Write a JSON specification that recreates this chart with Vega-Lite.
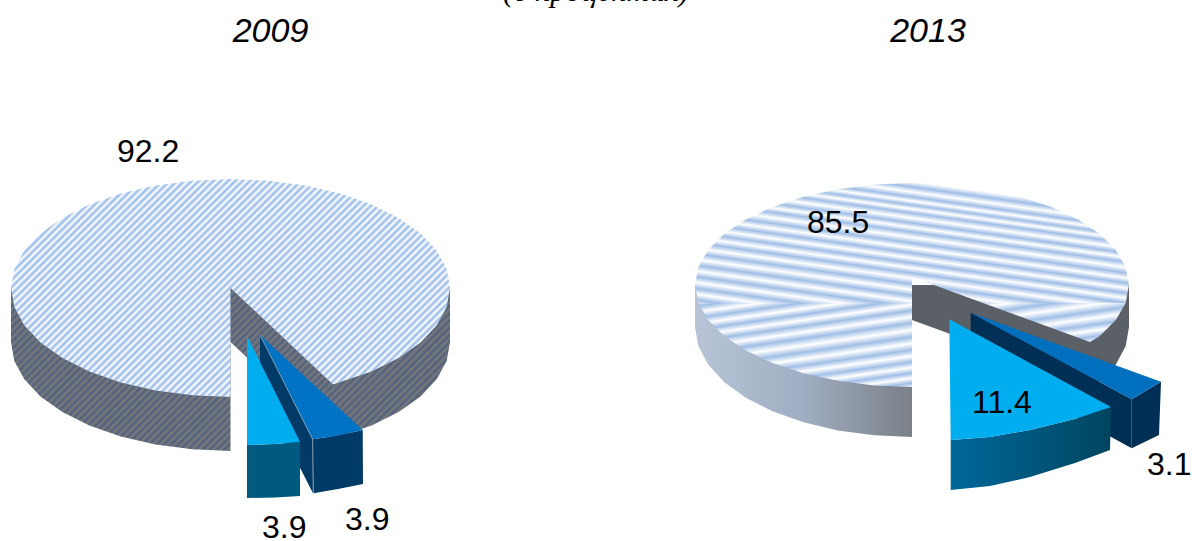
{"$schema":"https://vega.github.io/schema/vega-lite/v6.json","width":1192,"height":541,"padding":0,"autosize":{"type":"none"},"background":"#ffffff","config":{"view":{"stroke":null}},
"encoding":{"x":{"field":"x","type":"quantitative","axis":null,"scale":{"domain":[0,1192],"nice":false,"zero":false}},"y":{"field":"y","type":"quantitative","axis":null,"scale":{"domain":[0,541],"nice":false,"zero":false,"reverse":true}},"order":{"value":null}},
"layer":[
{"mark":{"type":"line","strokeWidth":0,"fill":{"gradient":"linear","x1":0,"y1":0,"x2":1.46,"y2":0.546,"stops":[{"offset":0,"color":"#7a7a7c"},{"offset":0.005,"color":"#4f5f7c"},{"offset":0.01,"color":"#7a7a7c"},{"offset":0.015,"color":"#4f5f7c"},{"offset":0.02,"color":"#7a7a7c"},{"offset":0.025,"color":"#4f5f7c"},{"offset":0.03,"color":"#7a7a7c"},{"offset":0.035,"color":"#4f5f7c"},{"offset":0.04,"color":"#7a7a7c"},{"offset":0.045,"color":"#4f5f7c"},{"offset":0.05,"color":"#7a7a7c"},{"offset":0.055,"color":"#4f5f7c"},{"offset":0.06,"color":"#7a7a7c"},{"offset":0.065,"color":"#4f5f7c"},{"offset":0.07,"color":"#7a7a7c"},{"offset":0.075,"color":"#4f5f7c"},{"offset":0.08,"color":"#7a7a7c"},{"offset":0.085,"color":"#4f5f7c"},{"offset":0.09,"color":"#7a7a7c"},{"offset":0.095,"color":"#4f5f7c"},{"offset":0.1,"color":"#7a7a7c"},{"offset":0.105,"color":"#4f5f7c"},{"offset":0.11,"color":"#7a7a7c"},{"offset":0.115,"color":"#4f5f7c"},{"offset":0.12,"color":"#7a7a7c"},{"offset":0.125,"color":"#4f5f7c"},{"offset":0.13,"color":"#7a7a7c"},{"offset":0.135,"color":"#4f5f7c"},{"offset":0.14,"color":"#7a7a7c"},{"offset":0.145,"color":"#4f5f7c"},{"offset":0.15,"color":"#7a7a7c"},{"offset":0.155,"color":"#4f5f7c"},{"offset":0.16,"color":"#7a7a7c"},{"offset":0.165,"color":"#4f5f7c"},{"offset":0.17,"color":"#7a7a7c"},{"offset":0.175,"color":"#4f5f7c"},{"offset":0.18,"color":"#7a7a7c"},{"offset":0.185,"color":"#4f5f7c"},{"offset":0.19,"color":"#7a7a7c"},{"offset":0.195,"color":"#4f5f7c"},{"offset":0.2,"color":"#7a7a7c"},{"offset":0.205,"color":"#4f5f7c"},{"offset":0.21,"color":"#7a7a7c"},{"offset":0.215,"color":"#4f5f7c"},{"offset":0.22,"color":"#7a7a7c"},{"offset":0.225,"color":"#4f5f7c"},{"offset":0.23,"color":"#7a7a7c"},{"offset":0.235,"color":"#4f5f7c"},{"offset":0.24,"color":"#7a7a7c"},{"offset":0.245,"color":"#4f5f7c"},{"offset":0.25,"color":"#7a7a7c"},{"offset":0.255,"color":"#4f5f7c"},{"offset":0.26,"color":"#7a7a7c"},{"offset":0.265,"color":"#4f5f7c"},{"offset":0.27,"color":"#7a7a7c"},{"offset":0.275,"color":"#4f5f7c"},{"offset":0.28,"color":"#7a7a7c"},{"offset":0.285,"color":"#4f5f7c"},{"offset":0.29,"color":"#7a7a7c"},{"offset":0.295,"color":"#4f5f7c"},{"offset":0.3,"color":"#7a7a7c"},{"offset":0.305,"color":"#4f5f7c"},{"offset":0.31,"color":"#7a7a7c"},{"offset":0.315,"color":"#4f5f7c"},{"offset":0.32,"color":"#7a7a7c"},{"offset":0.325,"color":"#4f5f7c"},{"offset":0.33,"color":"#7a7a7c"},{"offset":0.335,"color":"#4f5f7c"},{"offset":0.34,"color":"#7a7a7c"},{"offset":0.345,"color":"#4f5f7c"},{"offset":0.35,"color":"#7a7a7c"},{"offset":0.355,"color":"#4f5f7c"},{"offset":0.36,"color":"#7a7a7c"},{"offset":0.365,"color":"#4f5f7c"},{"offset":0.37,"color":"#7a7a7c"},{"offset":0.375,"color":"#4f5f7c"},{"offset":0.38,"color":"#7a7a7c"},{"offset":0.385,"color":"#4f5f7c"},{"offset":0.39,"color":"#7a7a7c"},{"offset":0.395,"color":"#4f5f7c"},{"offset":0.4,"color":"#7a7a7c"},{"offset":0.405,"color":"#4f5f7c"},{"offset":0.41,"color":"#7a7a7c"},{"offset":0.415,"color":"#4f5f7c"},{"offset":0.42,"color":"#7a7a7c"},{"offset":0.425,"color":"#4f5f7c"},{"offset":0.43,"color":"#7a7a7c"},{"offset":0.435,"color":"#4f5f7c"},{"offset":0.44,"color":"#7a7a7c"},{"offset":0.445,"color":"#4f5f7c"},{"offset":0.45,"color":"#7a7a7c"},{"offset":0.455,"color":"#4f5f7c"},{"offset":0.46,"color":"#7a7a7c"},{"offset":0.465,"color":"#4f5f7c"},{"offset":0.47,"color":"#7a7a7c"},{"offset":0.475,"color":"#4f5f7c"},{"offset":0.48,"color":"#7a7a7c"},{"offset":0.485,"color":"#4f5f7c"},{"offset":0.49,"color":"#7a7a7c"},{"offset":0.495,"color":"#4f5f7c"},{"offset":0.5,"color":"#7a7a7c"},{"offset":0.505,"color":"#4f5f7c"},{"offset":0.51,"color":"#7a7a7c"},{"offset":0.515,"color":"#4f5f7c"},{"offset":0.52,"color":"#7a7a7c"},{"offset":0.525,"color":"#4f5f7c"},{"offset":0.53,"color":"#7a7a7c"},{"offset":0.535,"color":"#4f5f7c"},{"offset":0.54,"color":"#7a7a7c"},{"offset":0.545,"color":"#4f5f7c"},{"offset":0.55,"color":"#7a7a7c"},{"offset":0.555,"color":"#4f5f7c"},{"offset":0.56,"color":"#7a7a7c"},{"offset":0.565,"color":"#4f5f7c"},{"offset":0.57,"color":"#7a7a7c"},{"offset":0.575,"color":"#4f5f7c"},{"offset":0.58,"color":"#7a7a7c"},{"offset":0.585,"color":"#4f5f7c"},{"offset":0.59,"color":"#7a7a7c"},{"offset":0.595,"color":"#4f5f7c"},{"offset":0.6,"color":"#7a7a7c"},{"offset":0.605,"color":"#4f5f7c"},{"offset":0.61,"color":"#7a7a7c"},{"offset":0.615,"color":"#4f5f7c"},{"offset":0.62,"color":"#7a7a7c"},{"offset":0.625,"color":"#4f5f7c"},{"offset":0.63,"color":"#7a7a7c"},{"offset":0.635,"color":"#4f5f7c"},{"offset":0.64,"color":"#7a7a7c"},{"offset":0.645,"color":"#4f5f7c"},{"offset":0.65,"color":"#7a7a7c"},{"offset":0.655,"color":"#4f5f7c"},{"offset":0.66,"color":"#7a7a7c"},{"offset":0.665,"color":"#4f5f7c"},{"offset":0.67,"color":"#7a7a7c"},{"offset":0.675,"color":"#4f5f7c"},{"offset":0.68,"color":"#7a7a7c"},{"offset":0.685,"color":"#4f5f7c"},{"offset":0.69,"color":"#7a7a7c"},{"offset":0.695,"color":"#4f5f7c"},{"offset":0.7,"color":"#7a7a7c"},{"offset":0.705,"color":"#4f5f7c"},{"offset":0.71,"color":"#7a7a7c"},{"offset":0.715,"color":"#4f5f7c"},{"offset":0.72,"color":"#7a7a7c"},{"offset":0.725,"color":"#4f5f7c"},{"offset":0.73,"color":"#7a7a7c"},{"offset":0.735,"color":"#4f5f7c"},{"offset":0.74,"color":"#7a7a7c"},{"offset":0.745,"color":"#4f5f7c"},{"offset":0.75,"color":"#7a7a7c"},{"offset":0.755,"color":"#4f5f7c"},{"offset":0.76,"color":"#7a7a7c"},{"offset":0.765,"color":"#4f5f7c"},{"offset":0.77,"color":"#7a7a7c"},{"offset":0.775,"color":"#4f5f7c"},{"offset":0.78,"color":"#7a7a7c"},{"offset":0.785,"color":"#4f5f7c"},{"offset":0.79,"color":"#7a7a7c"},{"offset":0.795,"color":"#4f5f7c"},{"offset":0.8,"color":"#7a7a7c"},{"offset":0.805,"color":"#4f5f7c"},{"offset":0.81,"color":"#7a7a7c"},{"offset":0.815,"color":"#4f5f7c"},{"offset":0.82,"color":"#7a7a7c"},{"offset":0.825,"color":"#4f5f7c"},{"offset":0.83,"color":"#7a7a7c"}]}},
"data":{"values":[{"x":11,"y":288},{"x":11,"y":342},{"x":14.3,"y":361},{"x":24.2,"y":379},{"x":40.4,"y":396.5},{"x":62.4,"y":412},{"x":89.4,"y":425.5},{"x":120.7,"y":436.4},{"x":155.4,"y":444.4},{"x":192.4,"y":449.3},{"x":230.5,"y":451},{"x":230.5,"y":342},{"x":333,"y":438.4},{"x":371.6,"y":425.5},{"x":398.6,"y":412},{"x":420.6,"y":396.5},{"x":436.8,"y":379},{"x":446.7,"y":361},{"x":450,"y":342},{"x":450,"y":288}]}},
{"mark":{"type":"line","strokeWidth":0,"fill":{"gradient":"linear","x1":0,"y1":0,"x2":1.33,"y2":0.665,"stops":[{"offset":0.11,"color":"#96b9e8"},{"offset":0.115,"color":"#fff"},{"offset":0.12,"color":"#96b9e8"},{"offset":0.125,"color":"#fff"},{"offset":0.13,"color":"#96b9e8"},{"offset":0.135,"color":"#fff"},{"offset":0.14,"color":"#96b9e8"},{"offset":0.145,"color":"#fff"},{"offset":0.15,"color":"#96b9e8"},{"offset":0.155,"color":"#fff"},{"offset":0.16,"color":"#96b9e8"},{"offset":0.165,"color":"#fff"},{"offset":0.17,"color":"#96b9e8"},{"offset":0.175,"color":"#fff"},{"offset":0.18,"color":"#96b9e8"},{"offset":0.185,"color":"#fff"},{"offset":0.19,"color":"#96b9e8"},{"offset":0.195,"color":"#fff"},{"offset":0.2,"color":"#96b9e8"},{"offset":0.205,"color":"#fff"},{"offset":0.21,"color":"#96b9e8"},{"offset":0.215,"color":"#fff"},{"offset":0.22,"color":"#96b9e8"},{"offset":0.225,"color":"#fff"},{"offset":0.23,"color":"#96b9e8"},{"offset":0.235,"color":"#fff"},{"offset":0.24,"color":"#96b9e8"},{"offset":0.245,"color":"#fff"},{"offset":0.25,"color":"#96b9e8"},{"offset":0.255,"color":"#fff"},{"offset":0.26,"color":"#96b9e8"},{"offset":0.265,"color":"#fff"},{"offset":0.27,"color":"#96b9e8"},{"offset":0.275,"color":"#fff"},{"offset":0.28,"color":"#96b9e8"},{"offset":0.285,"color":"#fff"},{"offset":0.29,"color":"#96b9e8"},{"offset":0.295,"color":"#fff"},{"offset":0.3,"color":"#96b9e8"},{"offset":0.305,"color":"#fff"},{"offset":0.31,"color":"#96b9e8"},{"offset":0.315,"color":"#fff"},{"offset":0.32,"color":"#96b9e8"},{"offset":0.325,"color":"#fff"},{"offset":0.33,"color":"#96b9e8"},{"offset":0.335,"color":"#fff"},{"offset":0.34,"color":"#96b9e8"},{"offset":0.345,"color":"#fff"},{"offset":0.35,"color":"#96b9e8"},{"offset":0.355,"color":"#fff"},{"offset":0.36,"color":"#96b9e8"},{"offset":0.365,"color":"#fff"},{"offset":0.37,"color":"#96b9e8"},{"offset":0.375,"color":"#fff"},{"offset":0.38,"color":"#96b9e8"},{"offset":0.385,"color":"#fff"},{"offset":0.39,"color":"#96b9e8"},{"offset":0.395,"color":"#fff"},{"offset":0.4,"color":"#96b9e8"},{"offset":0.405,"color":"#fff"},{"offset":0.41,"color":"#96b9e8"},{"offset":0.415,"color":"#fff"},{"offset":0.42,"color":"#96b9e8"},{"offset":0.425,"color":"#fff"},{"offset":0.43,"color":"#96b9e8"},{"offset":0.435,"color":"#fff"},{"offset":0.44,"color":"#96b9e8"},{"offset":0.445,"color":"#fff"},{"offset":0.45,"color":"#96b9e8"},{"offset":0.455,"color":"#fff"},{"offset":0.46,"color":"#96b9e8"},{"offset":0.465,"color":"#fff"},{"offset":0.47,"color":"#96b9e8"},{"offset":0.475,"color":"#fff"},{"offset":0.48,"color":"#96b9e8"},{"offset":0.485,"color":"#fff"},{"offset":0.49,"color":"#96b9e8"},{"offset":0.495,"color":"#fff"},{"offset":0.5,"color":"#96b9e8"},{"offset":0.505,"color":"#fff"},{"offset":0.51,"color":"#96b9e8"},{"offset":0.515,"color":"#fff"},{"offset":0.52,"color":"#96b9e8"},{"offset":0.525,"color":"#fff"},{"offset":0.53,"color":"#96b9e8"},{"offset":0.535,"color":"#fff"},{"offset":0.54,"color":"#96b9e8"},{"offset":0.545,"color":"#fff"},{"offset":0.55,"color":"#96b9e8"},{"offset":0.555,"color":"#fff"},{"offset":0.56,"color":"#96b9e8"},{"offset":0.565,"color":"#fff"},{"offset":0.57,"color":"#96b9e8"},{"offset":0.575,"color":"#fff"},{"offset":0.58,"color":"#96b9e8"},{"offset":0.585,"color":"#fff"},{"offset":0.59,"color":"#96b9e8"},{"offset":0.595,"color":"#fff"},{"offset":0.6,"color":"#96b9e8"},{"offset":0.605,"color":"#fff"},{"offset":0.61,"color":"#96b9e8"},{"offset":0.615,"color":"#fff"},{"offset":0.62,"color":"#96b9e8"},{"offset":0.625,"color":"#fff"},{"offset":0.63,"color":"#96b9e8"},{"offset":0.635,"color":"#fff"},{"offset":0.64,"color":"#96b9e8"},{"offset":0.645,"color":"#fff"},{"offset":0.65,"color":"#96b9e8"},{"offset":0.655,"color":"#fff"},{"offset":0.66,"color":"#96b9e8"},{"offset":0.665,"color":"#fff"},{"offset":0.67,"color":"#96b9e8"},{"offset":0.675,"color":"#fff"},{"offset":0.68,"color":"#96b9e8"},{"offset":0.685,"color":"#fff"},{"offset":0.69,"color":"#96b9e8"},{"offset":0.695,"color":"#fff"},{"offset":0.7,"color":"#96b9e8"},{"offset":0.705,"color":"#fff"},{"offset":0.71,"color":"#96b9e8"},{"offset":0.715,"color":"#fff"},{"offset":0.72,"color":"#96b9e8"},{"offset":0.725,"color":"#fff"},{"offset":0.73,"color":"#96b9e8"},{"offset":0.735,"color":"#fff"},{"offset":0.74,"color":"#96b9e8"},{"offset":0.745,"color":"#fff"},{"offset":0.75,"color":"#96b9e8"},{"offset":0.755,"color":"#fff"},{"offset":0.76,"color":"#96b9e8"},{"offset":0.765,"color":"#fff"},{"offset":0.77,"color":"#96b9e8"},{"offset":0.775,"color":"#fff"},{"offset":0.78,"color":"#96b9e8"},{"offset":0.785,"color":"#fff"},{"offset":0.79,"color":"#96b9e8"}]}},
"data":{"values":[{"x":333,"y":384.4},{"x":371.6,"y":371.5},{"x":398.6,"y":358.1},{"x":420.6,"y":342.5},{"x":436.8,"y":325.3},{"x":446.7,"y":306.9},{"x":450,"y":288},{"x":446.7,"y":269.1},{"x":436.8,"y":250.7},{"x":420.6,"y":233.5},{"x":398.6,"y":217.9},{"x":371.6,"y":204.5},{"x":340.3,"y":193.6},{"x":305.6,"y":185.6},{"x":268.6,"y":180.7},{"x":230.5,"y":179},{"x":192.4,"y":180.7},{"x":155.4,"y":185.6},{"x":120.7,"y":193.6},{"x":89.4,"y":204.5},{"x":62.4,"y":217.9},{"x":40.4,"y":233.5},{"x":24.2,"y":250.7},{"x":14.3,"y":269.1},{"x":11,"y":288},{"x":14.3,"y":306.9},{"x":24.2,"y":325.3},{"x":40.4,"y":342.5},{"x":62.4,"y":358.1},{"x":89.4,"y":371.5},{"x":120.7,"y":382.4},{"x":155.4,"y":390.4},{"x":192.4,"y":395.3},{"x":230.5,"y":397},{"x":230.5,"y":288}]}},
{"mark":{"type":"line","strokeWidth":0,"fill":{"gradient":"linear","x1":0,"y1":0,"x2":1,"y2":0,"stops":[{"offset":0,"color":"#b8c4d6"},{"offset":0.25,"color":"#a0adc2"},{"offset":0.499,"color":"#7b8088"},{"offset":0.5,"color":"#5b5f66"},{"offset":1,"color":"#5b5f66"}]}},
"data":{"values":[{"x":695,"y":285},{"x":695,"y":327},{"x":698.3,"y":346.1},{"x":708.1,"y":364.6},{"x":724.1,"y":382},{"x":745.8,"y":397.7},{"x":772.5,"y":411.3},{"x":803.5,"y":422.3},{"x":837.8,"y":430.4},{"x":874.3,"y":435.3},{"x":912,"y":437},{"x":912,"y":320},{"x":1090,"y":385},{"x":1099.9,"y":382},{"x":1115.9,"y":364.6},{"x":1125.7,"y":346.1},{"x":1129,"y":327},{"x":1129,"y":285}]}},
{"mark":{"type":"line","strokeWidth":0,"fill":{"gradient":"linear","x1":0.129,"y1":-0.255,"x2":-0.409,"y2":0.806,"stops":[{"offset":0.04,"color":"#fff"},{"offset":0.075,"color":"#a0bee6"},{"offset":0.106,"color":"#fff"},{"offset":0.1375,"color":"#a0bee6"},{"offset":0.1625,"color":"#fff"},{"offset":0.1875,"color":"#a0bee6"},{"offset":0.2125,"color":"#fff"},{"offset":0.2375,"color":"#a0bee6"},{"offset":0.269,"color":"#fff"},{"offset":0.3,"color":"#a0bee6"},{"offset":0.328,"color":"#fff"},{"offset":0.356,"color":"#a0bee6"},{"offset":0.39,"color":"#fff"},{"offset":0.425,"color":"#a0bee6"},{"offset":0.456,"color":"#fff"},{"offset":0.4875,"color":"#a0bee6"},{"offset":0.519,"color":"#fff"},{"offset":0.55,"color":"#a0bee6"},{"offset":0.581,"color":"#fff"},{"offset":0.6125,"color":"#a0bee6"},{"offset":0.647,"color":"#fff"},{"offset":0.681,"color":"#a0bee6"},{"offset":0.717,"color":"#fff"},{"offset":0.753,"color":"#a0bee6"},{"offset":0.789,"color":"#fff"},{"offset":0.825,"color":"#a0bee6"},{"offset":0.861,"color":"#fff"},{"offset":0.898,"color":"#a0bee6"},{"offset":0.934,"color":"#fff"},{"offset":0.971,"color":"#a0bee6"},{"offset":1,"color":"#fff"}]}},
"data":{"values":[{"x":1125.7,"y":303},{"x":1129,"y":285},{"x":1125.7,"y":267.3},{"x":1115.9,"y":250.1},{"x":1099.9,"y":234},{"x":1078.2,"y":219.4},{"x":1051.5,"y":206.9},{"x":1020.5,"y":196.7},{"x":986.2,"y":189.2},{"x":949.7,"y":184.5},{"x":912,"y":183},{"x":874.3,"y":184.5},{"x":837.8,"y":189.2},{"x":803.5,"y":196.7},{"x":772.5,"y":206.9},{"x":745.8,"y":219.4},{"x":724.1,"y":234},{"x":708.1,"y":250.1},{"x":698.3,"y":267.3},{"x":695,"y":285},{"x":698.3,"y":303},{"x":912,"y":303},{"x":912,"y":277},{"x":983,"y":303}]}},
{"mark":{"type":"line","strokeWidth":0,"fill":{"gradient":"linear","x1":0.6035,"y1":1.667,"x2":-0.006,"y2":-0.017,"stops":[{"offset":0.27,"color":"#fff"},{"offset":0.3,"color":"#a0bee6"},{"offset":0.331,"color":"#fff"},{"offset":0.3625,"color":"#a0bee6"},{"offset":0.397,"color":"#fff"},{"offset":0.431,"color":"#a0bee6"},{"offset":0.469,"color":"#fff"},{"offset":0.506,"color":"#a0bee6"},{"offset":0.547,"color":"#fff"},{"offset":0.5875,"color":"#a0bee6"},{"offset":0.631,"color":"#fff"},{"offset":0.675,"color":"#a0bee6"},{"offset":0.714,"color":"#fff"},{"offset":0.753,"color":"#a0bee6"},{"offset":0.789,"color":"#fff"},{"offset":0.825,"color":"#a0bee6"},{"offset":0.861,"color":"#fff"},{"offset":0.898,"color":"#a0bee6"},{"offset":0.934,"color":"#fff"},{"offset":0.971,"color":"#a0bee6"},{"offset":1,"color":"#fff"}]}},
"data":{"values":[{"x":698.3,"y":303},{"x":708.1,"y":319.9},{"x":724.1,"y":336},{"x":745.8,"y":350.6},{"x":772.5,"y":363.1},{"x":803.5,"y":373.3},{"x":837.8,"y":380.8},{"x":874.3,"y":385.5},{"x":912,"y":387},{"x":912,"y":303}]}},
{"mark":{"type":"line","strokeWidth":0,"fill":{"gradient":"linear","x1":1.228,"y1":2.398,"x2":-0.436,"y2":-0.851,"stops":[{"offset":0.27,"color":"#fff"},{"offset":0.3,"color":"#a0bee6"},{"offset":0.331,"color":"#fff"},{"offset":0.3625,"color":"#a0bee6"},{"offset":0.397,"color":"#fff"},{"offset":0.431,"color":"#a0bee6"},{"offset":0.469,"color":"#fff"},{"offset":0.506,"color":"#a0bee6"},{"offset":0.547,"color":"#fff"},{"offset":0.5875,"color":"#a0bee6"},{"offset":0.631,"color":"#fff"},{"offset":0.675,"color":"#a0bee6"},{"offset":0.714,"color":"#fff"},{"offset":0.753,"color":"#a0bee6"},{"offset":0.789,"color":"#fff"}]}},
"data":{"values":[{"x":983,"y":303},{"x":1125.7,"y":303},{"x":1115.9,"y":319.9},{"x":1099.9,"y":336},{"x":1090,"y":342}]}},
{"mark":{"type":"line","strokeWidth":0},
"encoding":{"fill":{"field":"face","type":"nominal","legend":null,"scale":{"domain":["2009 small inner","2009 small outer","2009 small top","2009 large outer","2009 large top","2013 small inner","2013 small outer","2013 small top"],"range":["#003a66","#003a66","#0073c4","#005a80","#00aeef","#002f55","#002f55","#006fbe"]}}},
"data":{"values":[{"face":"2009 small inner","x":260,"y":335},{"face":"2009 small inner","x":312.7,"y":439},{"face":"2009 small inner","x":313,"y":493.3},{"face":"2009 small inner","x":260,"y":389},{"face":"2009 small outer","x":312.7,"y":439.3},{"face":"2009 small outer","x":338,"y":435.5},{"face":"2009 small outer","x":362.7,"y":430},{"face":"2009 small outer","x":363,"y":484},{"face":"2009 small outer","x":338,"y":489},{"face":"2009 small outer","x":313.3,"y":493.3},{"face":"2009 small top","x":260,"y":335},{"face":"2009 small top","x":362.7,"y":430},{"face":"2009 small top","x":338,"y":435.5},{"face":"2009 small top","x":312.7,"y":439.3},{"face":"2009 large outer","x":247,"y":445},{"face":"2009 large outer","x":275,"y":444},{"face":"2009 large outer","x":300,"y":441.7},{"face":"2009 large outer","x":300,"y":496},{"face":"2009 large outer","x":275,"y":497.5},{"face":"2009 large outer","x":247,"y":498},{"face":"2009 large top","x":247,"y":336},{"face":"2009 large top","x":300,"y":441.7},{"face":"2009 large top","x":275,"y":444},{"face":"2009 large top","x":247,"y":445},{"face":"2013 small inner","x":970.7,"y":312.7},{"face":"2013 small inner","x":1131.7,"y":399.3},{"face":"2013 small inner","x":1131.7,"y":448.3},{"face":"2013 small inner","x":970.7,"y":360},{"face":"2013 small outer","x":1131.7,"y":399.3},{"face":"2013 small outer","x":1161,"y":381.7},{"face":"2013 small outer","x":1159,"y":435},{"face":"2013 small outer","x":1131.7,"y":448.3},{"face":"2013 small top","x":970.7,"y":312.7},{"face":"2013 small top","x":1161,"y":381.7},{"face":"2013 small top","x":1131.7,"y":399.3}]}},
{"mark":{"type":"line","stroke":"#93a7b8","strokeWidth":0.8},"data":{"values":[{"x":260,"y":335},{"x":312.7,"y":439.3},{"x":313.3,"y":493.3}]}},
{"mark":{"type":"line","strokeWidth":0,"fill":{"gradient":"linear","x1":0,"y1":0,"x2":1,"y2":0,"stops":[{"offset":0,"color":"#00689a"},{"offset":1,"color":"#00455f"}]}},
"data":{"values":[{"x":950.7,"y":440},{"x":990,"y":437},{"x":1030,"y":430},{"x":1075,"y":419},{"x":1111,"y":407},{"x":1110,"y":450},{"x":1075,"y":463},{"x":1030,"y":477},{"x":990,"y":486},{"x":950.7,"y":490}]}},
{"mark":{"type":"line","strokeWidth":0,"fill":"#00aeef"},
"data":{"values":[{"x":949.3,"y":319.3},{"x":1111,"y":407},{"x":1075,"y":419},{"x":1030,"y":430},{"x":990,"y":437},{"x":950.7,"y":440}]}},
{"mark":{"type":"text","align":"left","baseline":"alphabetic","font":"Liberation Sans","fontSize":32,"color":"#000000"},
"encoding":{"text":{"field":"value","type":"nominal"}},
"data":{"values":[{"value":"92.2","x":117,"y":162},{"value":"3.9","x":262,"y":538},{"value":"3.9","x":345,"y":530},{"value":"85.5","x":807,"y":233},{"value":"11.4","x":972,"y":413},{"value":"3.1","x":1147,"y":475}]}},
{"mark":{"type":"text","align":"center","baseline":"alphabetic","font":"Liberation Sans","fontStyle":"italic","fontSize":34,"color":"#000000"},
"encoding":{"text":{"field":"year","type":"nominal"}},
"data":{"values":[{"year":"2009","x":270.5,"y":42},{"year":"2013","x":928,"y":42}]}},
{"mark":{"type":"text","align":"center","baseline":"alphabetic","font":"Liberation Serif","fontStyle":"italic","fontSize":31,"color":"#000000"},
"encoding":{"text":{"field":"note","type":"nominal"}},
"data":{"values":[{"note":"(в процентах)","x":596,"y":1}]}}
]}
